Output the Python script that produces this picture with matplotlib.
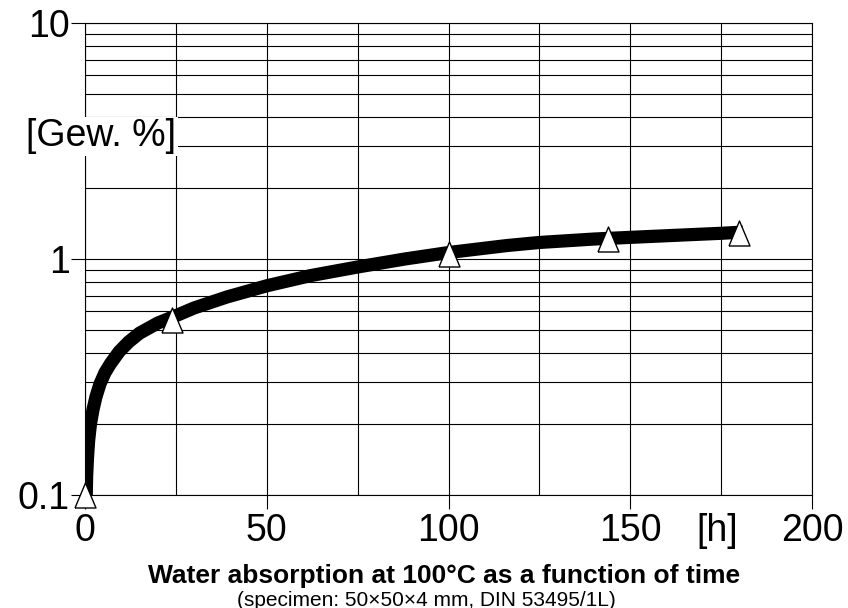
import matplotlib
matplotlib.use("Agg")
import matplotlib.pyplot as plt
from matplotlib.ticker import FixedLocator, FixedFormatter, LogLocator, MultipleLocator

plt.rcParams['font.family'] = ['Liberation Sans', 'DejaVu Sans']

# fitted curve
curve_h = [0.35, 0.45, 0.7, 1.0, 1.5, 2.2, 3.0, 4.1, 5.5, 7.0, 9.4, 12, 15, 20, 25, 30,
           39, 50, 62, 75, 88, 100, 116, 125, 140, 150, 165, 175, 181]
curve_v = [0.1, 0.12, 0.145, 0.17, 0.2, 0.23, 0.26, 0.295, 0.33, 0.36, 0.405, 0.445, 0.485,
           0.535, 0.575, 0.62, 0.69, 0.77, 0.85, 0.925, 1.0, 1.065, 1.14, 1.175, 1.215,
           1.235, 1.265, 1.285, 1.30]

# measured points
meas_h = [0, 24, 100, 144, 180]
meas_v = [0.1, 0.55, 1.05, 1.21, 1.29]

x_ticks = [0, 50, 100, 150, 200]
x_labels = ['0', '50', '100', '150', '200']
y_ticks = [0.1, 1, 10]
y_labels = ['0.1', '1', '10']

fig = plt.figure(figsize=(8.48, 6.08), dpi=100)
ax = fig.add_axes([85/848, 1-495/608, (812-85)/848, (495-23)/608])

ax.set_yscale('log')
ax.set_xlim(0, 200)
ax.set_ylim(0.1, 10)

ax.xaxis.set_major_locator(FixedLocator(x_ticks))
ax.xaxis.set_major_formatter(FixedFormatter(x_labels))
ax.xaxis.set_minor_locator(MultipleLocator(25))
ax.yaxis.set_major_locator(FixedLocator(y_ticks))
ax.yaxis.set_major_formatter(FixedFormatter(y_labels))
ax.yaxis.set_minor_locator(LogLocator(base=10, subs=range(2, 10)))
ax.yaxis.set_minor_formatter(FixedFormatter([]))

ax.grid(True, which='both', color='black', linewidth=0.8)
ax.set_axisbelow(True)
ax.tick_params(which='major', direction='out', length=10, width=0.8, labelsize=27, pad=3)
ax.tick_params(axis='y', which='major', pad=1)
ax.tick_params(which='minor', length=0)
for s in ax.spines.values():
    s.set_linewidth(0.8)
    s.set_color('black')

ax.plot(curve_h, curve_v, color='black', linewidth=9.5, solid_capstyle='butt',
        solid_joinstyle='round', zorder=3)

tri = [(-0.42, -0.5), (0.42, -0.5), (0.0, 0.5), (-0.42, -0.5)]
ax.plot(meas_h, meas_v, linestyle='none', marker=tri, markersize=18,
        markerfacecolor='white', markeredgecolor='black', markeredgewidth=1.0,
        zorder=4, clip_on=False)

ax.annotate('[h]', xy=(174, 0), xycoords=('data', 'axes fraction'),
            xytext=(0, -13), textcoords='offset points', ha='center', va='top', fontsize=27)

fig.text(101/848, 1-136/608, '[Gew. %]', ha='center', va='center', fontsize=27,
         bbox=dict(facecolor='white', edgecolor='none', pad=1), zorder=5)

fig.text(444/848, 1-576/608, 'Water absorption at 100°C as a function of time',
         ha='center', va='center', fontsize=19, fontweight='bold')
fig.text(426/848, 1-600/608, '(specimen: 50×50×4 mm, DIN 53495/1L)',
         ha='center', va='center', fontsize=15)

fig.savefig('out.png', dpi=100)
